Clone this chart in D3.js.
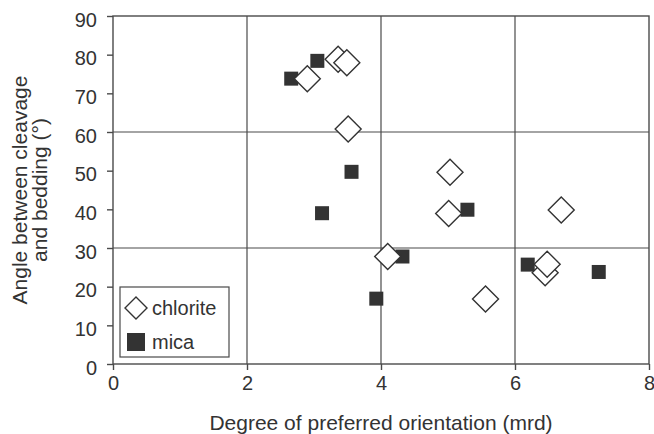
<!DOCTYPE html>
<html lang="en">
<head>
  <meta charset="UTF-8">
  <title>Angle vs preferred orientation</title>
  <script src="https://d3js.org/d3.v7.min.js"></script>
  <style>
    body { margin: 0; background: #fff; }
    text { font-family: "Liberation Sans", Arial, sans-serif; fill: #333; }
  </style>
</head>
<body>
  <div id="chart"></div>
  <script>
    // Chlorite points (open diamonds)
    const chloriteX = [2.90, 3.36, 3.49, 3.51, 5.03, 5.01, 6.69, 4.10, 5.56, 6.45, 6.48];
    const chloriteY = [73.8, 78.8, 77.9, 60.8, 49.6, 38.9, 39.8, 27.8, 16.8, 23.6, 25.8];

    // Mica points (filled squares)
    const micaX = [2.66, 3.05, 3.51, 3.56, 3.12, 5.29, 4.32, 3.93, 6.19, 7.25];
    const micaY = [73.8, 78.4, 60.8, 49.7, 39.0, 39.9, 27.8, 16.9, 25.7, 23.8];

    const xTicks = [0, 2, 4, 6, 8];
    const yTicks = [0, 10, 20, 30, 40, 50, 60, 70, 80, 90];
    const xGrid = [2, 4, 6];
    const yGrid = [30, 60];

    const width = 654, height = 434;
    const margin = { top: 16, right: 5, bottom: 70, left: 113 };

    const svg = d3.select("#chart").append("svg")
      .attr("width", width)
      .attr("height", height);

    const x = d3.scaleLinear().domain([0, 8]).range([margin.left, width - margin.right]);
    const y = d3.scaleLinear().domain([0, 90]).range([height - margin.bottom, margin.top]);

    const lineColor = "#4a4a4a";

    // Grid lines
    svg.append("g").selectAll("line")
      .data(xGrid)
      .enter().append("line")
        .attr("x1", d => x(d)).attr("x2", d => x(d))
        .attr("y1", y(0)).attr("y2", y(90))
        .attr("stroke", lineColor).attr("stroke-width", 1.2);

    svg.append("g").selectAll("line")
      .data(yGrid)
      .enter().append("line")
        .attr("x1", x(0)).attr("x2", x(8))
        .attr("y1", d => y(d)).attr("y2", d => y(d))
        .attr("stroke", lineColor).attr("stroke-width", 1.2);

    // Plot border
    svg.append("rect")
      .attr("x", x(0)).attr("y", y(90))
      .attr("width", x(8) - x(0)).attr("height", y(0) - y(90))
      .attr("fill", "none")
      .attr("stroke", lineColor).attr("stroke-width", 1.4);

    // Axes
    const xAxis = d3.axisBottom(x).tickValues(xTicks).tickSize(6).tickPadding(6).tickFormat(d3.format("d"));
    const yAxis = d3.axisLeft(y).tickValues(yTicks).tickSize(6).tickPadding(10).tickFormat(d3.format("d"));

    const gx = svg.append("g")
      .attr("transform", `translate(0,${y(0)})`)
      .call(xAxis);
    const gy = svg.append("g")
      .attr("transform", `translate(${x(0)},0)`)
      .call(yAxis);

    [gx, gy].forEach(g => {
      g.select(".domain").remove();
      g.selectAll("line").attr("stroke", lineColor).attr("stroke-width", 1.4);
      g.selectAll("text")
        .attr("font-size", 20)
        .style("font-family", "'Liberation Sans', Arial, sans-serif")
        .attr("fill", "#333");
    });
    gy.selectAll("text").attr("dy", "0.5em");

    // Axis titles
    svg.append("text")
      .attr("x", (x(0) + x(8)) / 2)
      .attr("y", 430)
      .attr("text-anchor", "middle")
      .attr("font-size", 21)
      .text("Degree of preferred orientation (mrd)");

    const yTitle = svg.append("text")
      .attr("transform", `translate(27,${(y(0) + y(90)) / 2}) rotate(-90)`)
      .attr("text-anchor", "middle")
      .attr("font-size", 21);
    yTitle.append("tspan").attr("x", 0).attr("dy", 0).text("Angle between cleavage");
    yTitle.append("tspan").attr("x", 0).attr("dy", 20).text("and bedding (°)");

    // Markers
    const diamond = r => `M0,${-r}L${r},0L0,${r}L${-r},0Z`;

    svg.append("g").selectAll("rect")
      .data(micaX.map((d, i) => [d, micaY[i]]))
      .enter().append("rect")
        .attr("x", d => x(d[0]) - 7)
        .attr("y", d => y(d[1]) - 7)
        .attr("width", 14).attr("height", 14)
        .attr("fill", "#333");

    svg.append("g").selectAll("path")
      .data(chloriteX.map((d, i) => [d, chloriteY[i]]))
      .enter().append("path")
        .attr("transform", d => `translate(${x(d[0])},${y(d[1])})`)
        .attr("d", diamond(13))
        .attr("fill", "#fff")
        .attr("stroke", "#333")
        .attr("stroke-width", 1.4);

    // Legend
    const legend = svg.append("g").attr("transform", "translate(120,287)");
    legend.append("rect")
      .attr("width", 109).attr("height", 70)
      .attr("fill", "#fff")
      .attr("stroke", lineColor).attr("stroke-width", 1.2);
    legend.append("path")
      .attr("transform", "translate(16,21)")
      .attr("d", diamond(11))
      .attr("fill", "#fff")
      .attr("stroke", "#333")
      .attr("stroke-width", 1.4);
    legend.append("text")
      .attr("x", 32).attr("y", 28)
      .attr("font-size", 20)
      .text("chlorite");
    legend.append("rect")
      .attr("x", 7).attr("y", 46)
      .attr("width", 18).attr("height", 18)
      .attr("fill", "#333");
    legend.append("text")
      .attr("x", 32).attr("y", 62)
      .attr("font-size", 20)
      .text("mica");
  </script>
</body>
</html>
